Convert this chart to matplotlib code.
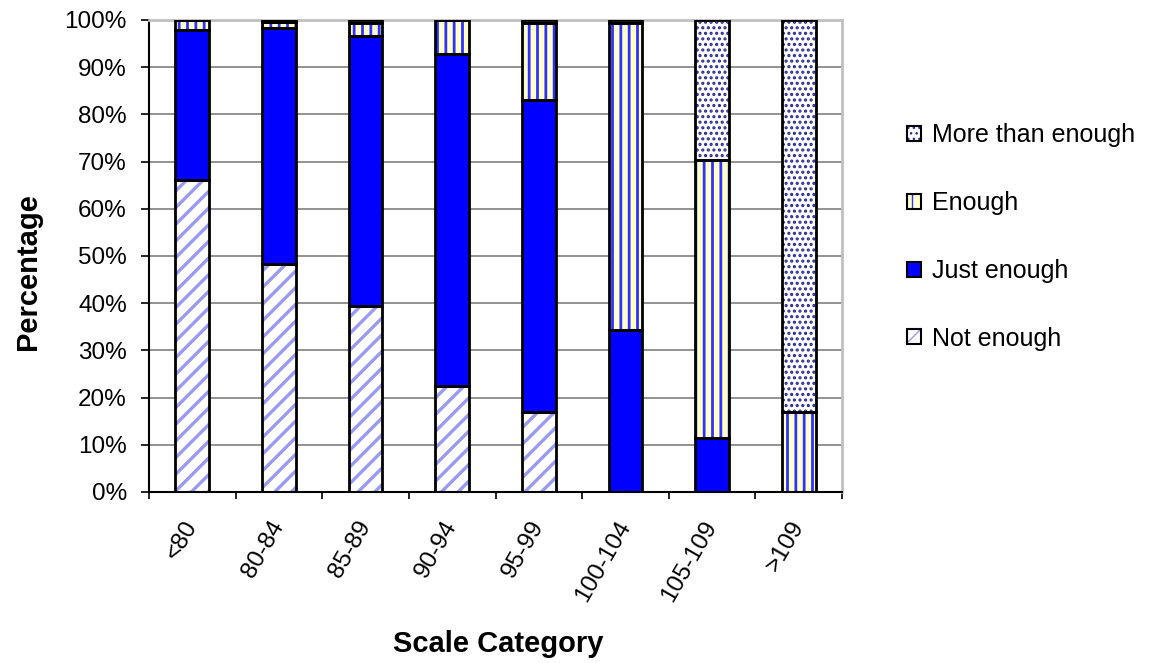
import matplotlib
matplotlib.use("Agg")
import matplotlib.pyplot as plt
from matplotlib.patches import Patch
import numpy as np

plt.rcParams['font.family'] = ['Liberation Sans', 'DejaVu Sans']

categories = ['<80', '80-84', '85-89', '90-94', '95-99', '100-104', '105-109', '>109']
not_enough = [66.0, 48.3, 39.4, 22.5, 17.0, 0.0, 0.0, 0.0]
just_enough = [31.9, 49.9, 57.2, 70.3, 66.0, 34.3, 11.5, 0.0]
enough = [2.1, 1.3, 2.8, 7.2, 16.4, 65.0, 58.8, 17.0]
more_than_enough = [0.0, 0.5, 0.6, 0.0, 0.6, 0.7, 29.7, 83.0]

y_ticks = list(range(0, 101, 10))
y_tick_labels = [f'{v}%' for v in y_ticks]

series = [
    ('Not enough', not_enough, 'white', '#9a9af5', '//', 2.4),
    ('Just enough', just_enough, '#0000ff', '#0000ff', None, 1.0),
    ('Enough', enough, '#ffffcc', '#3030ff', '||', 2.0),
    ('More than enough', more_than_enough, 'white', '#2a2a95', '...', 1.5),
]

fig = plt.figure(figsize=(11.5, 6.63), dpi=100)
ax = fig.add_axes([149 / 1150, 1 - 492 / 663, (842 - 149) / 1150, (492 - 20) / 663])

x = np.arange(len(categories))
width = 0.39
bottom = np.zeros(len(categories))
handles = []
for name, vals, face, hcol, hatch, hlw in series:
    vals = np.asarray(vals, dtype=float)
    fill = ax.bar(x, vals, width, bottom=bottom, color=face, edgecolor=hcol,
                  hatch=hatch, linewidth=0, zorder=2)
    for p in fill.patches:
        if hasattr(p, 'set_hatch_linewidth'):
            p.set_hatch_linewidth(hlw)
    ax.bar(x, vals, width, bottom=bottom, fill=False, edgecolor='black',
           linewidth=2, zorder=3)
    bottom = bottom + vals
    hp = Patch(facecolor=face, edgecolor=hcol, hatch=hatch, linewidth=0)
    if hasattr(hp, 'set_hatch_linewidth'):
        hp.set_hatch_linewidth(hlw)
    handles.append(((hp, Patch(fill=False, edgecolor='black', linewidth=1.5)), name))

ax.set_xlim(-0.5, len(categories) - 0.5)
ax.set_ylim(0, 100)
ax.set_yticks(y_ticks)
ax.set_yticklabels(y_tick_labels, fontsize=17.5)
ax.tick_params(axis='y', direction='out', length=6, width=1.2, pad=10)

ax.set_xticks(x)
ax.set_xticklabels(categories, fontsize=17.5, rotation=60, ha='right',
                   va='center', rotation_mode='anchor')
ax.tick_params(axis='x', which='major', length=0, pad=22)
ax.set_xticks(np.arange(-0.5, len(categories), 1.0), minor=True)
ax.tick_params(axis='x', which='minor', direction='out', length=5, width=1.2)

ax.set_axisbelow(True)
ax.yaxis.grid(True, color='#808080', linewidth=1.2, zorder=0)

ax.spines['left'].set_color('black')
ax.spines['left'].set_linewidth(1.5)
ax.spines['bottom'].set_color('black')
ax.spines['bottom'].set_linewidth(1.5)
ax.spines['top'].set_color('#c0c0c0')
ax.spines['top'].set_linewidth(2)
ax.spines['right'].set_color('#c0c0c0')
ax.spines['right'].set_linewidth(2)

fig.text(28 / 1150, 1 - 272 / 663, 'Percentage', rotation=90, fontsize=21,
         fontweight='bold', ha='center', va='center')
fig.text(498 / 1150, 1 - 644 / 663, 'Scale Category', fontsize=21,
         fontweight='bold', ha='center', va='center')

hs = [h for h, _ in reversed(handles)]
ls = [l for _, l in reversed(handles)]
ax.legend(hs, ls, loc='center left', bbox_to_anchor=(895 / 1150, 1 - 237 / 663),
          bbox_transform=fig.transFigure, frameon=False, fontsize=18,
          handlelength=0.55, handleheight=0.55, handletextpad=0.45,
          labelspacing=1.75, borderpad=0)

fig.savefig('out.png', dpi=100)
